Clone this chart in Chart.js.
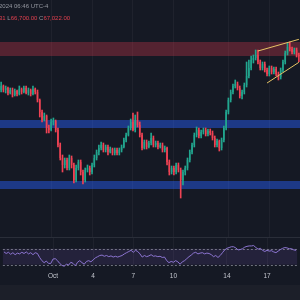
<!DOCTYPE html>
<html>
<head>
<meta charset="utf-8">
<script src="https://cdn.jsdelivr.net/npm/chart.js@4.4.1/dist/chart.umd.min.js"></script>
<style>
  html, body { margin: 0; padding: 0; width: 300px; height: 300px; overflow: hidden; background: #151924; font-family: "Liberation Sans", Arial, sans-serif; }
  #wrap { position: relative; width: 300px; height: 300px; }
  #price { position: absolute; left: 0; top: 0; }
  #sep { position: absolute; left: 0; top: 237px; width: 300px; height: 1px; background: #2a2e39; }
  #foot { position: absolute; left: 0; top: 285px; width: 300px; height: 15px; background: #1c1f29; }
  #rsi { position: absolute; left: 0; top: 238px; }
  .hdr { position: absolute; left: -1px; font-size: 6px; line-height: 6px; white-space: nowrap; color: #9598a1; }
  .r { color: #e0404f; }
</style>
</head>
<body>
<div id="wrap">
  <div id="foot"></div>
  <canvas id="price" width="300" height="237"></canvas>
  <div id="sep"></div>
  <canvas id="rsi" width="300" height="62"></canvas>
  <div class="hdr" style="top:3px">2024 06:46 UTC-4</div>
  <div class="hdr" style="top:15px"><span class="r">31</span> L<span class="r">66,700.00</span> C<span class="r">67,022.00</span></div>
</div>
<script>
// 4h candles, Sep 27 -> Oct 18 2024 (BTC/USD)
const open = [65000,65240,65000,65120,64820,65000,64700,64940,64760,65060,64880,65120,64820,65000,64760,65060,
  64880,64400,63680,63200,63440,62720,62600,63080,63140,62600,61700,60920,60500,60800,60320,60920,
  60500,59600,60320,60680,60080,59600,60200,60320,60080,60500,60920,61280,61520,61700,61400,61580,
  61280,61460,61220,61400,61220,61400,61580,62000,62300,62720,63080,62600,63200,62900,62300,61520,
  61880,61580,61820,62120,61700,61820,61580,61700,61400,61520,60680,60080,60320,60080,60500,60200,
  59600,60080,60320,60800,61280,61700,62300,62600,62240,62480,62600,62360,62540,62420,62120,61700,
  61940,61520,62000,62720,63680,64400,64880,65240,65360,65120,64640,64880,65300,65840,66320,66800,
  66920,67100,66680,66320,66560,66200,65960,66320,66080,66260,65960,65780,66200,66680,67220,67580,
  67460,67280,67400,67100];
const high = [65480,65300,65240,65180,65120,65120,65060,65000,65240,65120,65240,65240,65120,65060,65240,65120,
  65000,64460,63800,63620,63500,62900,63260,63320,63200,62720,61820,61100,60920,60920,61100,61040,
  60620,60500,60800,60800,60200,60320,60500,60440,60620,61100,61400,61700,61880,61820,61700,61700,
  61580,61520,61520,61520,61520,61700,62120,62420,62840,63260,63620,63500,63680,63080,62420,62000,
  62000,61940,62420,62240,61940,61940,61820,61820,61640,61580,60800,60440,60440,60620,60620,60320,
  60200,60440,60920,61400,61820,62420,62780,62720,62600,62720,62720,62660,62660,62540,62240,62060,
  62000,62120,62840,63800,64520,65000,65360,65600,65480,65240,65000,65420,66680,66800,67040,67100,
  67400,67400,66800,66680,66680,66320,66440,66440,66380,66380,66080,66320,66800,67340,67820,67880,
  67580,67520,67520,67220];
const low = [64880,64880,64820,64700,64760,64580,64640,64640,64700,64760,64820,64760,64700,64640,64700,64760,
  64280,63380,63080,63140,62420,62420,62540,62900,62480,61580,60800,60080,60320,60200,60200,60320,
  59420,59480,60200,59900,59360,59480,60080,59900,59960,60380,60800,61100,61400,61280,61280,61100,
  61220,61100,61100,61100,61100,61280,61520,61880,62240,62600,62540,62480,62780,62180,61400,61460,
  61460,61520,61700,61580,61580,61460,61520,61280,61280,60500,59900,59960,59900,59960,60080,58520,
  59300,59900,60200,60680,61160,61580,62180,62120,62120,62360,62240,62240,62300,62000,61580,61580,
  61340,61400,61880,62600,63560,64280,64760,65120,65000,64520,64460,64760,65180,65720,66200,66620,
  66800,66560,66200,66200,66080,65840,65840,65960,65960,65840,65600,65660,66080,66560,67100,67340,
  67160,67160,66980,66700];
const close = [65240,65000,65120,64820,65000,64700,64940,64760,65060,64880,65120,64820,65000,64760,65060,64880,
  64400,63680,63200,63440,62720,62600,63080,63140,62600,61700,60920,60500,60800,60320,60920,60500,
  59600,60320,60680,60080,59600,60200,60320,60080,60500,60920,61280,61520,61700,61400,61580,61280,
  61460,61220,61400,61220,61400,61580,62000,62300,62720,63080,62600,63200,62900,62300,61520,61880,
  61580,61820,62120,61700,61820,61580,61700,61400,61520,60680,60080,60320,60080,60500,60200,59600,
  60080,60320,60800,61280,61700,62300,62600,62240,62480,62600,62360,62540,62420,62120,61700,61940,
  61520,62000,62720,63680,64400,64880,65240,65360,65120,64640,64880,65300,65840,66320,66800,66920,
  67100,66680,66320,66560,66200,65960,66320,66080,66260,65960,65780,66200,66680,67220,67580,67460,
  67280,67400,67100,67022];

// RSI(14)
const rsi = [62,58,61,56,60,55,59,57,61,58,62,57,60,55,60,58,
  48,40,35,39,33,33,44,45,40,33,28,26,31,29,36,33,
  27,36,40,35,31,38,40,37,42,47,50,53,54,51,53,50,
  52,49,51,49,51,53,57,60,63,66,61,66,63,57,49,53,
  50,52,55,51,52,50,51,48,49,40,35,38,36,40,37,31,
  37,40,45,50,54,59,61,57,59,60,57,59,58,55,50,53,
  48,53,60,67,71,73,75,75,72,67,68,70,74,76,77,77,
  78,73,69,71,66,63,66,64,65,62,60,64,68,71,73,72,
  70,70,67,66];

// day ticks on the time axis
const tickIdx = [22, 40, 58, 76, 100, 118];
const tickText = ['Oct', '4', '7', '10', '14', '17'];

// drawn levels
const resistanceZone = [67040, 67880];
const supportZones = [[62720, 63200], [59060, 59540]];
const wedgeUpper = [[113, 67340], [131, 68040]];
const wedgeLower = [[117, 65420], [131, 66660]];
const rsiBand = [30, 70];

const UP = '#22a68f', DOWN = '#ef4354';
const labels = open.map((_, i) => i);
const colors = open.map((o, i) => (close[i] >= o ? UP : DOWN));
const gridColor = (ctx) => (tickIdx.includes(ctx.index) ? 'rgba(255,255,255,0.045)' : 'rgba(0,0,0,0)');

function lineData(pts) {
  const arr = labels.map(() => null);
  pts.forEach(([i, v]) => { arr[i] = v; });
  return arr;
}

const zonesPlugin = {
  id: 'zones',
  beforeDatasetsDraw(chart) {
    const { ctx, chartArea: a, scales: { y } } = chart;
    const band = (lo, hi, color) => {
      const top = y.getPixelForValue(hi), bot = y.getPixelForValue(lo);
      ctx.fillStyle = color;
      ctx.fillRect(a.left, top, a.right - a.left, bot - top);
    };
    ctx.save();
    band(resistanceZone[0], resistanceZone[1], 'rgba(232,60,80,0.3)');
    supportZones.forEach(([lo, hi]) => band(lo, hi, 'rgba(41,98,255,0.45)'));
    ctx.restore();
  },
};

const rsiBandPlugin = {
  id: 'rsiBand',
  beforeDatasetsDraw(chart) {
    const { ctx, chartArea: a, scales: { y } } = chart;
    const top = y.getPixelForValue(rsiBand[1]), bot = y.getPixelForValue(rsiBand[0]);
    ctx.save();
    ctx.fillStyle = 'rgba(126,87,194,0.15)';
    ctx.fillRect(a.left, top, a.right - a.left, bot - top);
    ctx.strokeStyle = 'rgba(150,152,165,0.7)';
    ctx.lineWidth = 1;
    ctx.setLineDash([2, 2]);
    [top, bot].forEach((py) => {
      ctx.beginPath();
      ctx.moveTo(a.left, Math.round(py) + 0.5);
      ctx.lineTo(a.right, Math.round(py) + 0.5);
      ctx.stroke();
    });
    ctx.restore();
  },
};

const xBase = {
  offset: true,
  border: { display: false },
  grid: { offset: false, drawTicks: false, color: gridColor, lineWidth: 1 },
};

new Chart(document.getElementById('price'), {
  type: 'bar',
  data: {
    labels,
    datasets: [
      { data: labels.map((i) => [low[i], high[i]]), backgroundColor: colors, barThickness: 1, grouped: false, order: 3 },
      { data: labels.map((i) => [open[i], close[i]]), backgroundColor: colors, barPercentage: 0.62, categoryPercentage: 1, minBarLength: 1, grouped: false, order: 2 },
      { type: 'line', data: lineData(wedgeUpper), borderColor: '#e6c465', borderWidth: 1, pointRadius: 0, spanGaps: true, order: 1 },
      { type: 'line', data: lineData(wedgeLower), borderColor: '#e6c465', borderWidth: 1, pointRadius: 0, spanGaps: true, order: 1 },
    ],
  },
  options: {
    responsive: false,
    animation: false,
    layout: { padding: 0 },
    plugins: { legend: { display: false }, tooltip: { enabled: false } },
    scales: {
      x: { ...xBase, ticks: { display: false } },
      y: { display: false, min: 56180, max: 70400 },
    },
  },
  plugins: [zonesPlugin],
});

new Chart(document.getElementById('rsi'), {
  type: 'line',
  data: {
    labels,
    datasets: [{ data: rsi, borderColor: '#8d76d2', borderWidth: 1, pointRadius: 0, tension: 0 }],
  },
  options: {
    responsive: false,
    animation: false,
    layout: { padding: { top: 0, bottom: 16, left: 0, right: 0 } },
    plugins: { legend: { display: false }, tooltip: { enabled: false } },
    scales: {
      x: {
        ...xBase,
        ticks: {
          autoSkip: false,
          maxRotation: 0,
          padding: 4,
          color: '#c3c6ce',
          font: { size: 6.5, family: '"Liberation Sans", Arial, sans-serif' },
          callback: (v, i) => { const k = tickIdx.indexOf(i); return k >= 0 ? tickText[k] : ''; },
        },
      },
      y: { display: false, min: 21, max: 97 },
    },
  },
  plugins: [rsiBandPlugin],
});
</script>
</body>
</html>
